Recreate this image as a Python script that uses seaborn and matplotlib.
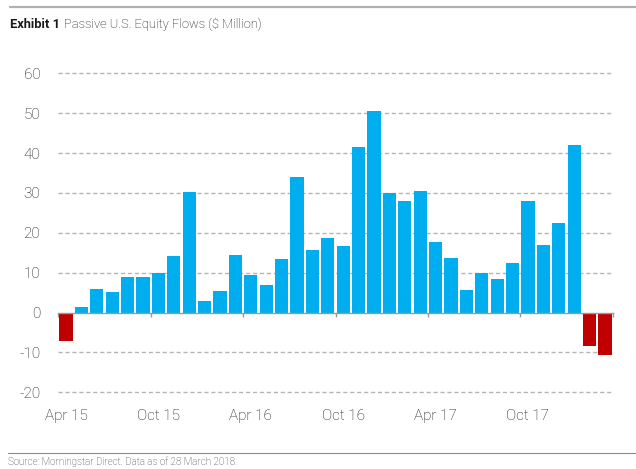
import numpy as np
import pandas as pd
import matplotlib
matplotlib.use("Agg")
import matplotlib.pyplot as plt
import seaborn as sns
from matplotlib.lines import Line2D

# ---- data ----
months = list(pd.date_range("2015-04-01", periods=36, freq="MS").strftime("%b %y"))
flows = [-7.2, 1.3, 6.0, 5.1, 8.8, 8.8, 10.0, 14.1, 30.2, 3.0, 5.5, 14.4,
         9.4, 7.0, 13.4, 34.0, 15.8, 18.6, 16.7, 41.6, 50.6, 30.0, 28.0, 30.5,
         17.7, 13.7, 5.7, 10.0, 8.3, 12.4, 28.0, 17.0, 22.4, 42.1, -8.3, -10.6]
tick_labels = ["Apr 15", "Oct 15", "Apr 16", "Oct 16", "Apr 17", "Oct 17"]
y_ticks = [-20, -10, 0, 10, 20, 30, 40, 50, 60]

BLUE = "#00ADEF"
RED = "#C00000"

df = pd.DataFrame({"month": months, "flow": flows})
df["sign"] = np.where(df["flow"] >= 0, "pos", "neg")

sns.set_theme(style="white")
plt.rcParams["font.family"] = ["Roboto", "DejaVu Sans"]

W, H = 636, 469
fig = plt.figure(figsize=(W / 100, H / 100), dpi=100)
ax = fig.add_axes([58.3 / W, 1 - 392.3 / H, (612.7 - 58.3) / W, (392.3 - 73.3) / H])

sns.barplot(data=df, x="month", y="flow", hue="sign", order=months,
            palette={"pos": BLUE, "neg": RED}, dodge=False, width=0.86,
            legend=False, saturation=1, ax=ax, linewidth=0)

n = len(months)
ax.set_xlim(-0.5, n - 0.5)
ax.set_ylim(-20, 60)
ax.set_xlabel("")
ax.set_ylabel("")

# gridlines (dashed) except zero
for v in y_ticks:
    if v != 0:
        ax.axhline(v, color="#b5b5b5", lw=1.0, ls=(0, (3, 2)), zorder=0, clip_on=False)

for s in ["top", "right", "left"]:
    ax.spines[s].set_visible(False)
ax.spines["bottom"].set_position(("data", 0))
ax.spines["bottom"].set_color("#999999")
ax.spines["bottom"].set_linewidth(1.0)
ax.spines["bottom"].set_zorder(3)

# boundary ticks on zero axis
bounds = np.arange(-0.5, n, 6)
ax.set_xticks(bounds)
ax.set_xticklabels([""] * len(bounds))
ax.tick_params(axis="x", which="major", direction="out", length=3, width=1,
               color="#999999", bottom=True)

ax.set_yticks(y_ticks)
ax.set_yticklabels([str(v) for v in y_ticks], fontweight="light")
ax.tick_params(axis="y", length=0, pad=13, labelsize=11, labelcolor="#111111")

# labels at bottom of plot
sec = ax.secondary_xaxis("bottom")
sec.set_xticks(np.arange(0, n, 6))
sec.set_xticklabels(tick_labels, fontweight="light")
sec.tick_params(length=0, pad=12, labelsize=11, labelcolor="#111111")
sec.spines["bottom"].set_visible(False)

# header / footer
fig.add_artist(Line2D([10 / W, 1], [1 - 6.7 / H] * 2, color="#b0b0b0", lw=1.6))
t1 = fig.text(10.5 / W, 1 - 24 / H, "Exhibit 1", fontsize=9.3, fontweight="bold",
              color="#1a1a1a", va="center", ha="left")
fig.canvas.draw()
bb = t1.get_window_extent(renderer=fig.canvas.get_renderer())
fig.text((bb.x1 + 3) / W, 1 - 24 / H, "Passive U.S. Equity Flows ($ Million)",
         fontsize=9.3, fontweight="light", color="#111111", va="center", ha="left")
fig.add_artist(Line2D([8 / W, 1], [1 - 453.3 / H] * 2, color="#8a8a8a", lw=0.8))
fig.text(8 / W, 1 - 462 / H, "Source: Morningstar Direct. Data as of 28 March 2018.",
         fontsize=7, fontweight="light", color="#333333", va="center", ha="left")

fig.savefig("out.png", dpi=100, facecolor="white")
